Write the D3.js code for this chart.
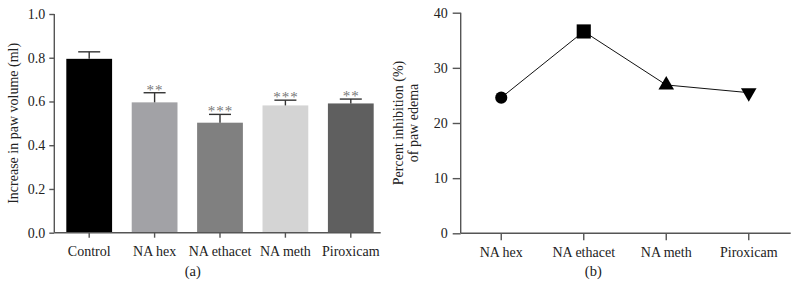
<!DOCTYPE html>
<html>
<head>
<meta charset="utf-8">
<script src="https://cdn.jsdelivr.net/npm/d3@7"></script>
<style>
  body { margin: 0; background: #fff; }
  svg text { font-family: "Liberation Serif", "DejaVu Serif", serif; fill: #222; }
  .axis path, .axis line { stroke: #555; stroke-width: 1.4; }
  .axis text { font-size: 14px; fill: #222; }
</style>
</head>
<body>
<div class="chart"></div>
<script>
// panel (a) data
const groupsA = ["Control", "NA hex", "NA ethacet", "NA meth", "Piroxicam"];
const meansA = [0.795, 0.596, 0.503, 0.582, 0.591];
const errA = [0.032, 0.044, 0.038, 0.024, 0.020];
const starsA = ["", "**", "***", "***", "**"];
const ticksA = [0, 0.2, 0.4, 0.6, 0.8, 1.0];

// panel (b) data
const groupsB = ["NA hex", "NA ethacet", "NA meth", "Piroxicam"];
const inhibB = [24.6, 36.6, 26.9, 25.5];
const ticksB = [0, 10, 20, 30, 40];

const barColors = ["#000000", "#a2a2a6", "#808080", "#d4d4d4", "#5f5f5f"];
const shapesB = [d3.symbolCircle, d3.symbolSquare, d3.symbolTriangle, d3.symbolTriangle];

const svg = d3.select('.chart')
    .append('svg')
    .attr("width", 799)
    .attr("height", 299);

// ---------- panel (a) ----------
const xa = d3.scaleBand()
    .domain(groupsA)
    .range([56.5, 383.5])
    .paddingInner(0.3)
    .paddingOuter(0.15);

const ya = d3.scaleLinear()
    .domain([0, 1])
    .range([232.7, 14]);

const ga = svg.append("g");

ga.selectAll(".bar")
    .data(groupsA)
    .enter()
    .append("rect")
    .attr("class", "bar")
    .attr("x", d => xa(d))
    .attr("width", xa.bandwidth())
    .attr("y", (d, i) => ya(meansA[i]))
    .attr("height", (d, i) => ya(0) - ya(meansA[i]))
    .style("fill", (d, i) => barColors[i]);

// error bars (upper only)
const eb = ga.selectAll(".err")
    .data(groupsA)
    .enter()
    .append("g")
    .attr("class", "err");

eb.append("line")
    .attr("x1", d => xa(d) + xa.bandwidth() / 2)
    .attr("x2", d => xa(d) + xa.bandwidth() / 2)
    .attr("y1", (d, i) => ya(meansA[i]))
    .attr("y2", (d, i) => ya(meansA[i] + errA[i]))
    .attr("stroke", "#333")
    .attr("stroke-width", 1.4);

eb.append("line")
    .attr("x1", d => xa(d) + xa.bandwidth() / 2 - 11)
    .attr("x2", d => xa(d) + xa.bandwidth() / 2 + 11)
    .attr("y1", (d, i) => ya(meansA[i] + errA[i]))
    .attr("y2", (d, i) => ya(meansA[i] + errA[i]))
    .attr("stroke", "#333")
    .attr("stroke-width", 1.4);

eb.append("text")
    .attr("x", d => xa(d) + xa.bandwidth() / 2 + 0.5)
    .attr("y", (d, i) => ya(meansA[i] + errA[i]) + 2)
    .attr("text-anchor", "middle")
    .style("font-size", "15px")
    .style("letter-spacing", "1px")
    .style("fill", "#777")
    .text((d, i) => starsA[i]);

// axes
ga.append("g")
    .attr("class", "axis")
    .attr("transform", "translate(54.3,0)")
    .call(d3.axisLeft(ya).tickValues(ticksA).tickFormat(d3.format(".1f")).tickSize(5).tickPadding(4).tickSizeOuter(0))
    .call(g => g.select(".domain").remove());

ga.append("line")
    .attr("x1", 54.3).attr("x2", 54.3)
    .attr("y1", ya(0)).attr("y2", ya(1))
    .attr("stroke", "#555").attr("stroke-width", 1.4);

ga.append("g")
    .attr("class", "axis")
    .attr("transform", "translate(0," + ya(0) + ")")
    .call(d3.axisBottom(xa).tickSize(5).tickPadding(8).tickSizeOuter(0))
    .call(g => g.select(".domain").remove());

ga.append("line")
    .attr("x1", 54.3).attr("x2", 380.7)
    .attr("y1", ya(0)).attr("y2", ya(0))
    .attr("stroke", "#555").attr("stroke-width", 1.4);

ga.append("text")
    .attr("transform", "translate(18," + ya(0.5) + ") rotate(-90)")
    .attr("text-anchor", "middle")
    .style("font-size", "14px")
    .text("Increase in paw volume (ml)");

ga.append("text")
    .attr("x", 192.7)
    .attr("y", 276)
    .attr("text-anchor", "middle")
    .style("font-size", "14.5px")
    .text("(a)");

// ---------- panel (b) ----------
const xb = d3.scaleBand()
    .domain(groupsB)
    .range([460, 790]);

const yb = d3.scaleLinear()
    .domain([0, 40])
    .range([233.3, 12.7]);

const gb = svg.append("g");

gb.append("g")
    .attr("class", "axis")
    .attr("transform", "translate(460.7,0)")
    .call(d3.axisLeft(yb).tickValues(ticksB).tickSize(8).tickPadding(5).tickSizeOuter(0))
    .call(g => g.select(".domain").remove());

gb.append("line")
    .attr("x1", 460.7).attr("x2", 460.7)
    .attr("y1", yb(0)).attr("y2", yb(40))
    .attr("stroke", "#555").attr("stroke-width", 1.4);

gb.append("g")
    .attr("class", "axis")
    .attr("transform", "translate(0," + yb(0) + ")")
    .call(d3.axisBottom(xb).tickSize(7).tickPadding(7).tickSizeOuter(0))
    .call(g => g.select(".domain").remove());

gb.append("line")
    .attr("x1", 460.7).attr("x2", 790.7)
    .attr("y1", yb(0)).attr("y2", yb(0))
    .attr("stroke", "#555").attr("stroke-width", 1.4);

const line = d3.line()
    .x((d, i) => xb(groupsB[i]) + xb.bandwidth() / 2)
    .y(d => yb(d));

gb.append("path")
    .datum(inhibB)
    .attr("d", line)
    .attr("fill", "none")
    .attr("stroke", "#111")
    .attr("stroke-width", 1);

const symSizes = [115, 200, 105, 105];

gb.selectAll(".pt")
    .data(inhibB)
    .enter()
    .append("path")
    .attr("class", "pt")
    .attr("d", (d, i) => d3.symbol().type(shapesB[i]).size(symSizes[i])())
    .attr("transform", (d, i) => "translate(" + (xb(groupsB[i]) + xb.bandwidth() / 2) + "," + yb(d) + ")" + (i === 3 ? " rotate(180)" : ""))
    .style("fill", "#000");

const yTitle = gb.append("text")
    .attr("transform", "translate(403," + yb(20) + ") rotate(-90)")
    .attr("text-anchor", "middle")
    .style("font-size", "14px");
yTitle.append("tspan").attr("x", 0).attr("dy", 0).text("Percent inhibition (%)");
yTitle.append("tspan").attr("x", 0).attr("dy", 15).text("of paw edema");

gb.append("text")
    .attr("x", 593.3)
    .attr("y", 276)
    .attr("text-anchor", "middle")
    .style("font-size", "14.5px")
    .text("(b)");
</script>
</body>
</html>
